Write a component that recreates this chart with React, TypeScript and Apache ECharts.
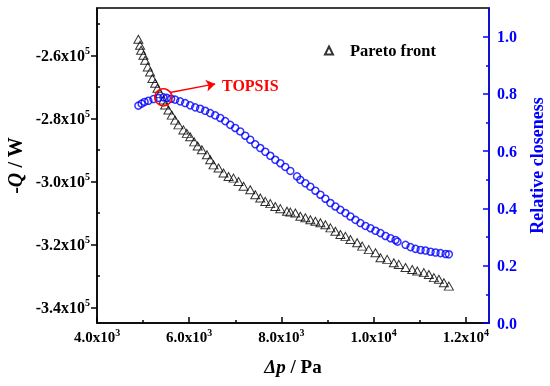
import React, { useEffect, useRef } from "react";
import * as echarts from "echarts";

const FONT = "Liberation Serif";
const BLUE = "#0000FF";
const RED = "#FF0000";
const BLACK = "#000000";

// Pareto front: pressure drop (Pa) vs -Q (W)
const paretoX = [
  4897, 4934, 4956, 5006, 5043, 5101, 5151, 5201, 5260, 5310, 5368, 5440, 5477, 5549, 5622, 5694,
  5766, 5874, 5948, 6020, 6107, 6183, 6274, 6383, 6454, 6526, 6635, 6743, 6852, 6960, 7069, 7178,
  7323, 7432, 7540, 7649, 7758, 7866, 7975, 8120, 8192, 8301, 8409, 8518, 8626, 8735, 8844, 8952,
  9061, 9169, 9278, 9387, 9495, 9641, 9749, 9893, 10038, 10147, 10292, 10436, 10544, 10690, 10835,
  10944, 11087, 11196, 11305, 11413, 11522, 11630,
];
const paretoQ = [
  -254900, -256800, -258400, -260000, -261600, -263700, -265300, -267400, -268900, -270500, -272100,
  -274200, -275800, -277400, -279000, -280600, -282100, -283700, -284800, -285900, -287500, -288800,
  -290000, -291600, -293200, -294800, -295800, -297400, -298500, -299000, -300100, -301600, -302700,
  -304300, -305300, -306400, -307100, -308000, -308700, -309500, -309800, -310100, -311100, -311600,
  -312200, -312700, -313200, -313800, -314800, -315900, -316900, -317500, -318500, -319500, -320600,
  -321700, -322700, -324300, -324800, -325900, -326400, -327400, -328000, -328500, -329000, -329600,
  -330600, -331100, -332200, -333300,
];

// Relative closeness
const closenessX = [
  4897, 4967, 5032, 5114, 5223, 5331, 5440, 5514, 5607, 5694, 5803, 5911, 6020, 6129, 6237, 6346,
  6454, 6563, 6672, 6780, 6889, 6997, 7106, 7215, 7323, 7432, 7540, 7649, 7758, 7866, 7975, 8083,
  8192, 8337, 8409, 8518, 8626, 8735, 8844, 8952, 9061, 9169, 9278, 9387, 9495, 9604, 9712, 9821,
  9930, 10038, 10147, 10255, 10364, 10473, 10516, 10690, 10798, 10907, 11016, 11124, 11233, 11341,
  11450, 11559, 11630,
];
const closenessR = [
  0.759, 0.766, 0.772, 0.776, 0.782, 0.786, 0.788, 0.786, 0.783, 0.78, 0.774, 0.768, 0.76, 0.753,
  0.748, 0.741, 0.733, 0.725, 0.716, 0.705, 0.692, 0.681, 0.669, 0.654, 0.64, 0.624, 0.611, 0.598,
  0.584, 0.57, 0.558, 0.545, 0.531, 0.512, 0.5, 0.488, 0.476, 0.462, 0.448, 0.434, 0.419, 0.407,
  0.395, 0.384, 0.372, 0.36, 0.349, 0.339, 0.331, 0.322, 0.314, 0.304, 0.296, 0.29, 0.284, 0.273,
  0.265, 0.259, 0.255, 0.253, 0.249, 0.246, 0.244, 0.241, 0.24,
];

const xMajorTicks = [4000, 6000, 8000, 10000, 12000];
const xMinorTicks = [5000, 7000, 9000, 11000];
const qMajorTicks = [-340000, -320000, -300000, -280000, -260000];
const qMinorTicks = [-330000, -310000, -290000, -270000, -250000];
const rMajorTicks = [0, 0.2, 0.4, 0.6, 0.8, 1.0];
const rMinorTicks = [0.1, 0.3, 0.5, 0.7, 0.9];

const topsisPoint = [5440, 0.788];
const arrowFrom = [5586, 0.805];
const arrowTo = [6563, 0.835];

function sci(v: number): string {
  const neg = v < 0;
  const a = Math.abs(v);
  const e = Math.floor(Math.log10(a) + 1e-9);
  const m = a / Math.pow(10, e);
  return `{b|${neg ? "-" : ""}${m.toFixed(1)}x10}{s|${e}}`;
}

function rich(size: number, color: string) {
  return {
    b: { fontSize: size, fontWeight: "bold", fontFamily: FONT, color, lineHeight: 20 },
    s: { fontSize: 10, fontWeight: "bold", fontFamily: FONT, color, lineHeight: 10, verticalAlign: "top" },
  };
}

export default function App() {
  const ref = useRef<HTMLDivElement>(null);
  useEffect(() => {
    const chart = echarts.init(ref.current!, null, { renderer: "svg" });
    const axisLine = (color: string) => ({ show: true, lineStyle: { color, width: 1.5 } });
    const option: any = {
      animation: false,
      grid: {
        left: 97,
        right: 61,
        top: 8,
        bottom: 63,
        containLabel: false,
        outerBoundsMode: "none",
        show: true,
        borderColor: BLACK,
        borderWidth: 1.5,
      },
      legend: {
        data: ["Pareto front"],
        left: 324,
        top: 42,
        padding: 0,
        itemWidth: 8,
        itemHeight: 8,
        selectedMode: false,
        textStyle: { fontSize: 16.5, fontWeight: "bold", fontFamily: FONT, color: BLACK, padding: [0, 0, 0, 12] },
      },
      xAxis: [
        {
          type: "value",
          min: 4000,
          max: 12500,
          position: "bottom",
          axisLine: axisLine(BLACK),
          axisTick: { show: true, inside: true, length: 6, customValues: xMajorTicks, lineStyle: { color: BLACK, width: 1.5 } },
          axisLabel: { customValues: xMajorTicks, formatter: sci, margin: 4, fontFamily: FONT, fontWeight: "bold", rich: rich(15, BLACK) },
          splitLine: { show: false },
          name: "{i|Δp} / Pa",
          nameLocation: "middle",
          nameGap: 34,
          nameTextStyle: {
            fontSize: 19,
            fontWeight: "bold",
            fontFamily: FONT,
            color: BLACK,
            rich: { i: { fontSize: 19, fontWeight: "bold", fontStyle: "italic", fontFamily: FONT, color: BLACK } },
          },
        },
        {
          type: "value",
          min: 4000,
          max: 12500,
          position: "bottom",
          axisLine: { show: false },
          axisTick: { show: true, inside: true, length: 3, customValues: xMinorTicks, lineStyle: { color: BLACK, width: 1.5 } },
          axisLabel: { show: false },
          splitLine: { show: false },
        },
      ],
      yAxis: [
        {
          type: "value",
          min: -345000,
          max: -245000,
          position: "left",
          axisLine: axisLine(BLACK),
          axisTick: { show: true, inside: false, length: 6, customValues: qMajorTicks, lineStyle: { color: BLACK, width: 1.5 } },
          axisLabel: { customValues: qMajorTicks, formatter: sci, margin: 7, fontFamily: FONT, fontWeight: "bold", rich: rich(16, BLACK) },
          splitLine: { show: false },
          name: "-{i|Q} / W",
          nameLocation: "middle",
          nameRotate: 90,
          nameGap: 58,
          nameTextStyle: {
            fontSize: 20,
            fontWeight: "bold",
            fontFamily: FONT,
            color: BLACK,
            rich: { i: { fontSize: 20, fontWeight: "bold", fontStyle: "italic", fontFamily: FONT, color: BLACK } },
          },
        },
        {
          type: "value",
          min: 0,
          max: 1.1,
          position: "right",
          axisLine: axisLine(BLUE),
          axisTick: { show: true, inside: true, length: 6, customValues: rMajorTicks, lineStyle: { color: BLUE, width: 1.5 } },
          axisLabel: {
            customValues: rMajorTicks,
            formatter: (v: number) => v.toFixed(1),
            margin: 8,
            color: BLUE,
            fontSize: 16,
            fontWeight: "bold",
            fontFamily: FONT,
          },
          splitLine: { show: false },
          name: "Relative closeness",
          nameLocation: "middle",
          nameRotate: 90,
          nameGap: 36,
          nameTextStyle: { fontSize: 18, fontWeight: "bold", fontFamily: FONT, color: BLUE },
        },
        {
          type: "value",
          min: -345000,
          max: -245000,
          position: "left",
          axisLine: { show: false },
          axisTick: { show: true, inside: true, length: 3, customValues: qMinorTicks, lineStyle: { color: BLACK, width: 1.5 } },
          axisLabel: { show: false },
          splitLine: { show: false },
        },
        {
          type: "value",
          min: 0,
          max: 1.1,
          position: "right",
          axisLine: { show: false },
          axisTick: { show: true, inside: true, length: 3, customValues: rMinorTicks, lineStyle: { color: BLUE, width: 1.5 } },
          axisLabel: { show: false },
          splitLine: { show: false },
        },
      ],
      series: [
        {
          type: "scatter",
          name: "Pareto front",
          xAxisIndex: 0,
          yAxisIndex: 0,
          data: paretoX.map((x, i) => [x, paretoQ[i]]),
          symbol: "triangle",
          symbolSize: [9, 8],
          itemStyle: { color: "transparent", borderColor: BLACK, borderWidth: 1 },
        },
        {
          type: "scatter",
          name: "Relative closeness",
          xAxisIndex: 0,
          yAxisIndex: 1,
          data: closenessX.map((x, i) => [x, closenessR[i]]),
          symbol: "circle",
          symbolSize: 7,
          itemStyle: { color: "transparent", borderColor: BLUE, borderWidth: 1.5 },
          markPoint: {
            symbol: "circle",
            symbolSize: 17,
            itemStyle: { color: "transparent", borderColor: RED, borderWidth: 1.5 },
            label: { show: false },
            data: [{ coord: topsisPoint }],
          },
          markLine: {
            symbol: ["none", "arrow"],
            symbolSize: 9,
            label: { show: false },
            lineStyle: { color: RED, width: 1.5, type: "solid" },
            data: [[{ coord: arrowFrom }, { coord: arrowTo }]],
          },
        },
      ],
      graphic: [
        {
          type: "text",
          x: 222,
          y: 77,
          style: {
            text: "TOPSIS",
            fontFamily: FONT,
            fontSize: 16,
            fontWeight: "bold",
            fill: RED,
          },
        },
      ],
    };
    chart.setOption(option);
    return () => chart.dispose();
  }, []);
  return <div ref={ref} style={{ position: "fixed", left: 0, top: 0, width: 550, height: 386 }} />;
}
